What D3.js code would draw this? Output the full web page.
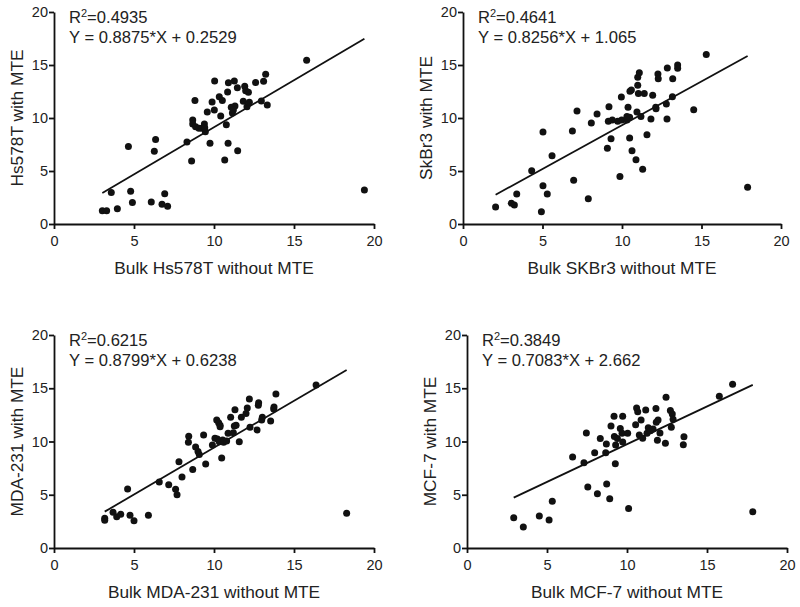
<!DOCTYPE html>
<html>
<head>
<meta charset="utf-8">
<script src="https://cdn.jsdelivr.net/npm/d3@7"></script>
<style>
  body { margin: 0; background: #fff; }
  svg text { font-family: 'Liberation Sans', Arial, sans-serif; fill: #222; }
</style>
</head>
<body>
<div id="chart"></div>
<script>
// Hs578T panel
const hsX = [3.02, 3.29, 3.58, 3.96, 4.65, 4.79, 4.90, 6.08, 6.27, 6.35, 6.75, 6.92, 7.10, 8.31, 8.60, 8.67, 8.81, 8.67, 8.85, 9.06,
  9.25, 9.40, 9.46, 9.42, 9.58, 9.75, 9.88, 10.02, 10.04, 10.33, 10.42, 10.52, 10.67, 10.77, 10.85, 10.90, 10.88, 11.08, 11.15, 11.27,
  11.31, 11.46, 11.48, 11.21, 11.92, 11.98, 11.83, 12.06, 12.15, 12.21, 12.60, 12.96, 13.10, 13.23, 13.33, 15.79, 19.40];
const hsY = [1.26, 1.26, 2.96, 1.45, 7.30, 3.08, 2.04, 2.08, 6.86, 7.96, 1.86, 2.86, 1.67, 7.74, 5.94, 9.81, 11.64, 9.43, 9.18, 9.03,
  9.03, 9.43, 8.71, 9.09, 10.57, 7.61, 11.51, 10.75, 13.49, 12.01, 10.19, 11.64, 6.04, 9.37, 12.45, 13.33, 7.61, 11.01, 10.47, 13.49,
  11.13, 12.86, 6.92, 10.75, 12.99, 12.58, 11.57, 11.07, 12.42, 11.48, 13.36, 11.60, 13.46, 14.12, 11.23, 15.44, 3.20];

// SKBr3 panel
const skX = [2.05, 3.04, 3.23, 3.38, 4.32, 4.93, 5.03, 5.03, 5.30, 5.60, 6.88, 6.96, 7.17, 7.88, 8.07, 8.43, 9.08, 9.18, 9.31, 9.14,
  9.39, 9.87, 9.96, 9.98, 9.73, 10.31, 10.38, 10.48, 10.48, 10.50, 10.59, 10.63, 10.31, 10.88, 10.94, 10.99, 10.99, 11.09, 11.03, 11.19,
  11.30, 11.40, 11.57, 11.82, 11.93, 12.14, 12.26, 12.28, 12.12, 12.79, 12.85, 12.83, 13.19, 13.17, 13.50, 13.50, 14.51, 15.30, 17.90];
const skY = [1.60, 1.95, 1.79, 2.83, 5.03, 1.16, 8.68, 3.62, 2.83, 6.45, 8.77, 4.12, 10.66, 2.39, 9.53, 10.38, 7.14, 11.07, 8.05, 9.69,
  9.81, 4.47, 11.98, 9.81, 9.69, 9.81, 11.01, 10.06, 8.11, 12.52, 12.64, 6.92, 10.13, 6.07, 10.57, 13.08, 13.84, 14.28, 12.30, 10.13,
  5.16, 12.30, 8.43, 9.91, 12.14, 10.88, 14.15, 13.71, 11.01, 11.32, 14.72, 9.91, 13.71, 12.01, 15.00, 14.69, 10.79, 16.00, 3.46];

// MDA-231 panel
const mdaX = [3.17, 3.17, 3.69, 3.92, 4.17, 4.60, 4.75, 5.00, 5.90, 6.58, 7.17, 7.60, 7.69, 7.81, 8.00, 8.42, 8.40, 8.67, 8.85, 9.00,
  9.08, 9.35, 9.48, 9.90, 10.06, 10.17, 10.29, 10.21, 10.33, 10.38, 10.38, 10.48, 10.54, 10.60, 10.79, 10.88, 11.04, 11.21, 11.27, 11.31,
  11.38, 11.58, 11.71, 12.00, 12.08, 12.21, 12.25, 12.69, 12.77, 12.79, 13.02, 12.98, 13.54, 13.73, 13.75, 13.87, 16.38, 18.29];
const mdaY = [2.79, 2.60, 3.35, 2.94, 3.16, 5.54, 3.07, 2.57, 3.07, 6.20, 5.95, 5.51, 5.01, 8.11, 6.67, 10.49, 9.92, 7.36, 9.48, 9.05,
  8.79, 10.61, 7.89, 9.67, 10.30, 12.02, 11.77, 10.23, 9.98, 11.52, 11.39, 8.45, 10.14, 9.92, 10.05, 10.77, 12.27, 10.83, 11.46, 12.99,
  11.52, 9.98, 12.27, 12.64, 13.15, 13.99, 11.33, 11.08, 13.40, 13.65, 12.27, 12.02, 11.92, 13.05, 13.24, 14.46, 15.31, 3.26];

// MCF-7 panel
const mcfX = [2.92, 3.52, 4.52, 5.13, 5.33, 6.60, 7.31, 7.46, 7.55, 7.98, 8.15, 8.33, 8.71, 8.67, 8.73, 8.92, 9.00, 9.19, 9.21, 9.29,
  9.27, 9.40, 9.58, 9.73, 9.73, 9.69, 10.04, 10.10, 10.54, 10.60, 10.67, 10.77, 10.88, 10.98, 11.17, 11.25, 11.33, 11.46, 11.63, 11.81,
  11.83, 11.94, 11.90, 12.06, 12.40, 12.44, 12.71, 12.77, 12.83, 12.88, 13.52, 13.56, 15.77, 16.60, 17.86];
const mcfY = [2.85, 1.97, 3.00, 2.63, 4.38, 8.54, 8.01, 10.80, 5.72, 8.95, 5.10, 10.27, 9.77, 8.95, 6.01, 4.63, 11.46, 12.36, 10.46, 9.67,
  7.92, 10.27, 11.21, 12.36, 9.95, 10.77, 10.77, 3.72, 11.58, 13.15, 12.80, 10.61, 12.02, 10.30, 12.96, 10.77, 11.30, 11.02, 11.17, 13.11,
  11.80, 12.02, 10.11, 10.80, 9.83, 14.15, 12.90, 11.33, 12.58, 12.08, 9.70, 10.45, 14.24, 15.37, 3.41];

const xLabels = ['Bulk Hs578T without MTE', 'Bulk SKBr3 without MTE', 'Bulk MDA-231 without MTE', 'Bulk MCF-7 without MTE'];
const yLabels = ['Hs578T with MTE', 'SkBr3 with MTE', 'MDA-231 with MTE', 'MCF-7 with MTE'];
const r2Values = ['0.4935', '0.4641', '0.6215', '0.3849'];
const slopes = [0.8875, 0.8256, 0.8799, 0.7083];
const intercepts = [0.2529, 1.065, 0.6238, 2.662];
const eqLabels = ['Y = 0.8875*X + 0.2529', 'Y = 0.8256*X + 1.065', 'Y = 0.8799*X + 0.6238', 'Y = 0.7083*X + 2.662'];
const ticks = [0, 5, 10, 15, 20];

const seriesX = [hsX, skX, mdaX, mcfX];
const seriesY = [hsY, skY, mdaY, mcfY];

// pixel frame of each panel: [x0, x20, y0, y20]
const frames = [
  [54, 374, 224, 12],
  [463, 781, 224, 12],
  [54, 374, 548, 335],
  [467, 787, 548, 335]
];

const svg = d3.select('#chart').append('svg')
  .attr('width', 800).attr('height', 607);

frames.forEach((f, i) => {
  const x = d3.scaleLinear().domain([0, 20]).range([f[0], f[1]]);
  const y = d3.scaleLinear().domain([0, 20]).range([f[2], f[3]]);
  const g = svg.append('g');

  const xAxis = g.append('g').attr('transform', `translate(0,${f[2]})`)
    .call(d3.axisBottom(x).tickValues(ticks).tickSize(5).tickSizeOuter(0).tickPadding(7));
  const yAxis = g.append('g').attr('transform', `translate(${f[0]},0)`)
    .call(d3.axisLeft(y).tickValues(ticks).tickSize(5).tickSizeOuter(0).tickPadding(1));
  [xAxis, yAxis].forEach(a => {
    a.selectAll('path, line').attr('stroke', '#111').attr('stroke-width', 1.8);
    a.selectAll('text').attr('font-size', '14.5px').attr('fill', '#222')
      .attr('font-family', "'Liberation Sans', Arial, sans-serif");
  });

  // x label
  g.append('text')
    .attr('x', (f[0] + f[1]) / 2).attr('y', f[2] + 50)
    .attr('text-anchor', 'middle').attr('font-size', '17.3px')
    .text(xLabels[i]);
  // y label
  g.append('text')
    .attr('transform', `translate(${f[0] - 31},${(f[2] + f[3]) / 2}) rotate(-90)`)
    .attr('text-anchor', 'middle').attr('font-size', '17.3px')
    .text(yLabels[i]);

  // regression line over data range
  const xs = seriesX[i];
  const lo = d3.min(xs), hi = d3.max(xs);
  g.append('line')
    .attr('x1', x(lo)).attr('y1', y(slopes[i] * lo + intercepts[i]))
    .attr('x2', x(hi)).attr('y2', y(slopes[i] * hi + intercepts[i]))
    .attr('stroke', '#111').attr('stroke-width', 1.8);

  // points
  g.selectAll('circle.pt')
    .data(xs.map((v, j) => [v, seriesY[i][j]]))
    .enter().append('circle')
    .attr('class', 'pt')
    .attr('cx', d => x(d[0])).attr('cy', d => y(d[1]))
    .attr('r', 3.5).attr('fill', '#111');

  // annotations
  const r2 = g.append('text')
    .attr('x', f[0] + 15).attr('y', f[3] + 11).attr('font-size', '16.6px');
  r2.append('tspan').text('R');
  r2.append('tspan').attr('dy', -6).attr('font-size', '11px').text('2');
  r2.append('tspan').attr('dy', 6).text('=' + r2Values[i]);

  g.append('text')
    .attr('x', f[0] + 15).attr('y', f[3] + 31).attr('font-size', '16.6px')
    .text(eqLabels[i]);
});
</script>
</body>
</html>
